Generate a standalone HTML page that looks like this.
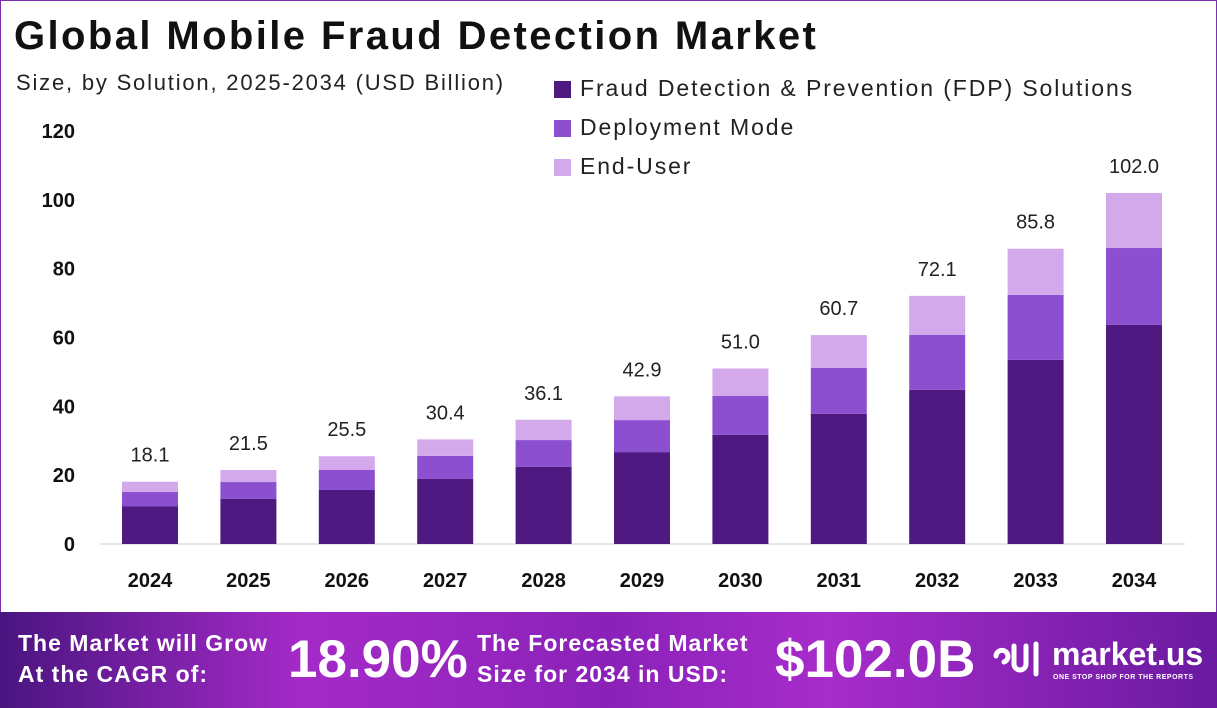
<!DOCTYPE html>
<html><head><meta charset="utf-8"><style>
body{margin:0;width:1217px;height:708px;overflow:hidden;background:#fff;font-family:"Liberation Sans",sans-serif;position:relative}
.frame{position:absolute;left:0;top:0;width:1215px;height:706px;border:1px solid #7b2fb0}
.title{position:absolute;left:14px;top:14px;font-size:40px;font-weight:bold;color:#111;letter-spacing:2.4px}
.sub{position:absolute;left:16px;top:70px;font-size:22px;color:#222;letter-spacing:1.8px}
.leg{position:absolute;left:554px;font-size:23px;color:#222;letter-spacing:1.9px}
.leg i{display:inline-block;width:17px;height:17px;margin-right:9px;vertical-align:-2px}
.footer{position:absolute;left:0;top:612px;width:1217px;height:96px;background:linear-gradient(90deg,#4a1580 0%,#a52ac8 25%,#8a22b8 50%,#a82ccb 68%,#6a1aa0 100%);color:#fff;font-weight:bold}
.ft{position:absolute;font-size:23px;line-height:31px;letter-spacing:1px}
.big{position:absolute;font-size:53px;top:17px}
</style></head><body>
<div class="frame"></div>
<div class="title">Global Mobile Fraud Detection Market</div>
<div class="sub">Size, by Solution, 2025-2034 (USD Billion)</div>
<div class="leg" style="top:75px"><i style="background:#4e1a82"></i>Fraud Detection &amp; Prevention (FDP) Solutions</div>
<div class="leg" style="top:114px"><i style="background:#8b4fd0"></i>Deployment Mode</div>
<div class="leg" style="top:153px"><i style="background:#d4a9ec"></i>End-User</div>
<svg id="chart" width="1217" height="612" style="position:absolute;left:0;top:0"></svg>
<div class="footer">
<div class="ft" style="left:18px;top:16px">The Market will Grow<br>At the CAGR of:</div>
<div class="big" style="left:288px">18.90%</div>
<div class="ft" style="left:477px;top:16px">The Forecasted Market<br>Size for 2034 in USD:</div>
<div class="big" style="left:775px">$102.0B</div>
<svg style="position:absolute;left:988px;top:22px" width="56" height="50"><g fill="none" stroke="#fff" stroke-width="5" stroke-linecap="round"><path d="M8 22 a6 6 0 1 1 8 6"/><path d="M26 12 v18 a6 6 0 0 0 12 0 v-18"/><path d="M48 10 v30"/></g></svg>
<div style="position:absolute;left:1052px;top:24px;font-size:32px">market.us</div>
<div style="position:absolute;left:1053px;top:62px;font-size:7px;letter-spacing:0.5px">ONE STOP SHOP FOR THE REPORTS</div>
</div>
<script>
const years=["2024","2025","2026","2027","2028","2029","2030","2031","2032","2033","2034"];
const fdp=[11.0,13.1,15.7,18.9,22.4,26.7,31.7,37.8,44.8,53.5,63.7];
const deployment=[4.1,4.9,5.8,6.7,7.8,9.3,11.3,13.4,16.0,18.9,22.3];
const endUser=[3.0,3.5,4.0,4.8,5.9,6.9,8.0,9.5,11.3,13.4,16.0];
const totals=["18.1","21.5","25.5","30.4","36.1","42.9","51.0","60.7","72.1","85.8","102.0"];
const ticks=[0,20,40,60,80,100,120];
const svg=document.getElementById('chart');const NS='http://www.w3.org/2000/svg';
const y=v=>544-v*(413/120);
const x=i=>150+i*98.4;
function mk(t,a,txt){const e=document.createElementNS(NS,t);for(const k in a)e.setAttribute(k,a[k]);if(txt!=null)e.textContent=txt;svg.appendChild(e);return e;}
let l=mk('line',{x1:100,x2:1185,y1:544,y2:544,stroke:'#ccc','stroke-width':1});


ticks.forEach(t=>{const e=mk('text',{x:75,y:y(t)+7,'text-anchor':'end','font-size':20,'font-weight':'bold',fill:'#111','font-family':'Liberation Sans'},t);

});
const cols=['#4e1a82','#8b4fd0','#d4a9ec'];
years.forEach((yr,i)=>{let base=0;[fdp[i],deployment[i],endUser[i]].forEach((v,k)=>{
const r=mk('rect',{x:x(i)-28,y:y(base+v),width:56,height:y(base)-y(base+v),fill:cols[k]});


base+=v;});
const tl=mk('text',{x:x(i),y:y(base)-20,'text-anchor':'middle','font-size':20,fill:'#222','font-family':'Liberation Sans'},totals[i]);


const xl=mk('text',{x:x(i),y:587,'text-anchor':'middle','font-size':20,'font-weight':'bold',fill:'#111','font-family':'Liberation Sans'},yr);

});
</script>
</body></html>
